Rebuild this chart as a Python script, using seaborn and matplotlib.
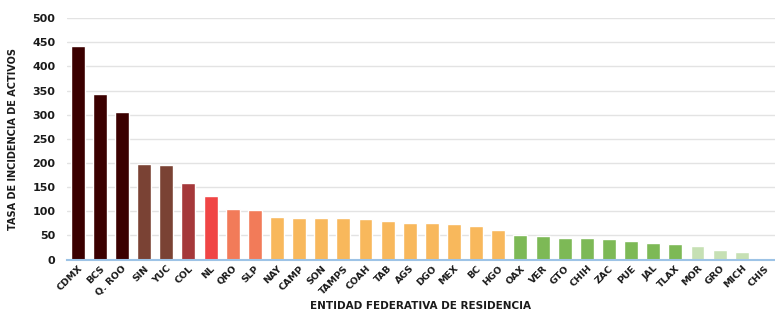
# Tasa de incidencia de casos activos por entidad federativa de residencia

import matplotlib
matplotlib.use('Agg')
import matplotlib.pyplot as plt
import seaborn as sns
import pandas as pd

estados = ['CDMX', 'BCS', 'Q. ROO', 'SIN', 'YUC', 'COL', 'NL', 'QRO', 'SLP',
           'NAY', 'CAMP', 'SON', 'TAMPS', 'COAH', 'TAB', 'AGS', 'DGO', 'MEX',
           'BC', 'HGO', 'OAX', 'VER', 'GTO', 'CHIH', 'ZAC', 'PUE', 'JAL',
           'TLAX', 'MOR', 'GRO', 'MICH', 'CHIS']
tasa = [442, 343, 306, 198, 196, 158, 132, 104, 102,
        88, 86.5, 86, 86, 83, 80, 75, 75, 73.5,
        69, 62, 51, 49, 45, 45, 43, 38, 33.5,
        32, 28.5, 20, 15, 4]
# color por rango de tasa
colores = ['#3b0000', '#3b0000', '#3b0000', '#7a4234', '#7a4234', '#a5383a',
           '#f04545', '#f27b59', '#f27b59'] + ['#f8b85c'] * 11 + \
          ['#7db956'] * 8 + ['#c6e0b4'] * 4

df = pd.DataFrame({'estado': estados, 'tasa': tasa})

sns.set_style('white')
plt.rcParams['font.family'] = ['DejaVu Sans']

fig = plt.figure(figsize=(7.75, 3.12), dpi=100)
ax = fig.add_axes([0.086, 0.168, 0.914, 0.774])

sns.barplot(data=df, x='estado', y='tasa', hue='estado', palette=colores,
            legend=False, width=0.63, ax=ax, saturation=1)

ax.set_ylim(0, 500)
ax.set_xlim(-0.5, len(estados) - 0.5)
ax.set_yticks(range(0, 501, 50))
ax.yaxis.grid(True, color='#e3e3e3', linewidth=1.0)
ax.set_axisbelow(True)
for s in ['top', 'right', 'left']:
    ax.spines[s].set_visible(False)
ax.spines['bottom'].set_color('#9dc3e6')
ax.spines['bottom'].set_linewidth(1.5)
ax.tick_params(axis='x', length=0, pad=3)
ax.tick_params(axis='y', length=0, pad=8)

for label in ax.get_yticklabels():
    label.set_fontsize(8)
    label.set_fontweight('bold')
    label.set_color('#1a1a1a')
for label in ax.get_xticklabels():
    label.set_fontsize(6.8)
    label.set_fontweight('bold')
    label.set_rotation(45)
    label.set_ha('right')
    label.set_rotation_mode('anchor')
    label.set_color('#1a1a1a')

ax.set_ylabel('TASA DE INCIDENCIA DE ACTIVOS', fontsize=7, fontweight='bold',
              color='#1a1a1a')
ax.yaxis.set_label_coords(-0.069, 0.5)
ax.set_xlabel('ENTIDAD FEDERATIVA DE RESIDENCIA', fontsize=7.5,
              fontweight='bold', color='#1a1a1a')
ax.xaxis.set_label_coords(0.5, -0.172)

plt.savefig('out.png', dpi=100)
